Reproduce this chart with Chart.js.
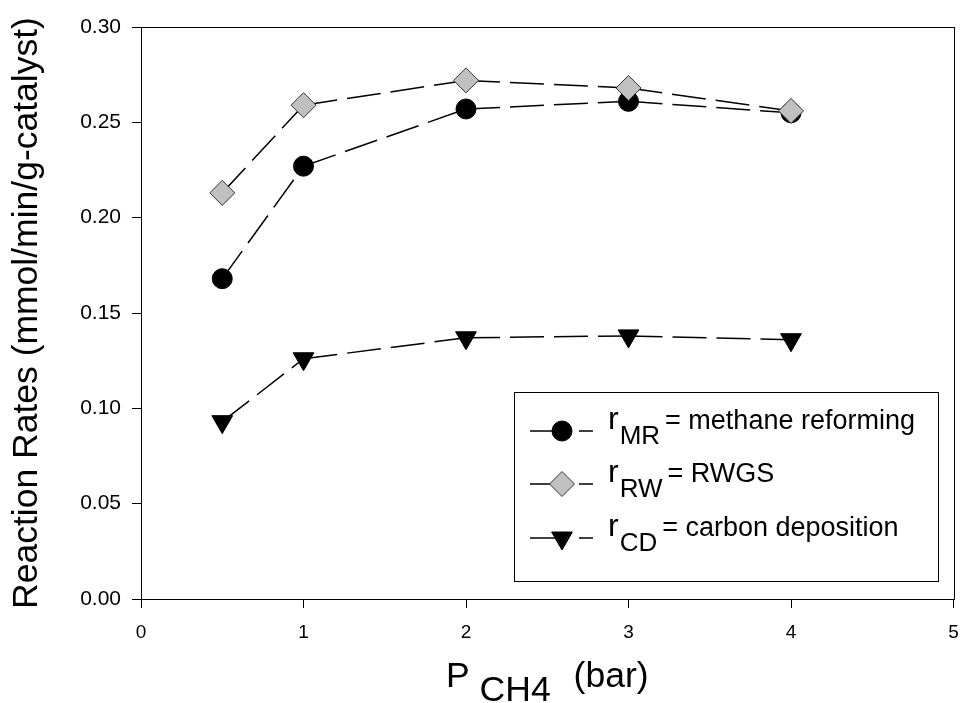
<!DOCTYPE html>
<html>
<head>
<meta charset="utf-8">
<script src="https://cdn.jsdelivr.net/npm/chart.js@4.4.0/dist/chart.umd.min.js"></script>
<style>
  html, body { margin: 0; padding: 0; background: #fff; }
  #wrap { width: 967px; height: 703px; }
</style>
</head>
<body>
<div id="wrap"><canvas id="myChart" width="967" height="703"></canvas></div>
<script>
// values
let pressure = [0.5, 1, 2, 3, 4];
let rMR = [0.168, 0.227, 0.257, 0.261, 0.255];
let rRW = [0.213, 0.259, 0.272, 0.268, 0.256];
let rCD = [0.093, 0.126, 0.137, 0.138, 0.136];

let xTicks = [0, 1, 2, 3, 4, 5];
let yTicks = [0, 0.05, 0.10, 0.15, 0.20, 0.25, 0.30];

let legendMain = ['r', 'r', 'r'];
let legendSub = ['MR', 'RW', 'CD'];
let legendText = ['= methane reforming', '= RWGS', '= carbon deposition'];

const FONT = "'Liberation Sans', Arial, sans-serif";

function pts(ys) {
    return pressure.map((x, i) => ({ x: x, y: ys[i] }));
}

// restart the dash pattern on every segment, like the original plot does
let segStyle = {
    borderDashOffset: ctx => ctx.p0DataIndex * 0.001
};

function drawMarker(ctx, ds, x, y) {
    ctx.save();
    ctx.fillStyle = ds.pointBackgroundColor;
    ctx.strokeStyle = ds.pointBorderColor;
    ctx.lineWidth = ds.pointBorderWidth;
    ctx.setLineDash([]);
    let r = ds.pointRadius;
    ctx.beginPath();
    if (ds.pointStyle === 'circle') {
        ctx.arc(x, y, r, 0, Math.PI * 2);
    } else if (ds.pointStyle === 'rectRot') {
        ctx.moveTo(x, y - r);
        ctx.lineTo(x + r, y);
        ctx.lineTo(x, y + r);
        ctx.lineTo(x - r, y);
    } else {
        ctx.moveTo(x, y + r);
        ctx.lineTo(x - Math.sin(Math.PI / 3) * r, y - r / 2);
        ctx.lineTo(x + Math.sin(Math.PI / 3) * r, y - r / 2);
    }
    ctx.closePath();
    ctx.fill();
    ctx.stroke();
    ctx.restore();
}

let extras = {
    id: 'extras',
    afterDraw(chart) {
        const ctx = chart.ctx;
        const a = chart.chartArea;
        ctx.save();

        // frame
        ctx.strokeStyle = '#000';
        ctx.lineWidth = 1;
        ctx.strokeRect(Math.round(a.left) + 0.5, Math.round(a.top) + 0.5,
            Math.round(a.right - a.left), Math.round(a.bottom - a.top));

        // y title
        ctx.fillStyle = '#000';
        ctx.save();
        ctx.translate(37, (a.top + a.bottom) / 2);
        ctx.rotate(-Math.PI / 2);
        ctx.font = '35.5px ' + FONT;
        ctx.textAlign = 'center';
        ctx.textBaseline = 'alphabetic';
        ctx.fillText('Reaction Rates (mmol/min/g-catalyst)', 0, 0);
        ctx.restore();

        // x title: P CH4 (bar)
        ctx.textBaseline = 'alphabetic';
        ctx.textAlign = 'left';
        ctx.font = '35.5px ' + FONT;
        let wP = ctx.measureText('P').width;
        let wB = ctx.measureText('(bar)').width;
        let wS = ctx.measureText('CH4').width;
        let total = wP + 10 + wS + 23 + wB;
        let cx = (a.left + a.right) / 2 - total / 2;
        ctx.fillText('P', cx, 687);
        ctx.fillText('CH4', cx + wP + 10, 701);
        ctx.fillText('(bar)', cx + wP + 10 + wS + 23, 687);

        // legend box
        ctx.strokeStyle = '#000';
        ctx.lineWidth = 1;
        ctx.strokeRect(514.5, 392.5, 424, 189);

        let rows = [431, 484, 538];
        chart.data.datasets.forEach((ds, i) => {
            let y = rows[i];
            ctx.save();
            ctx.strokeStyle = '#000';
            ctx.lineWidth = 1.5;
            ctx.beginPath();
            ctx.moveTo(530, y);
            ctx.lineTo(562, y);
            ctx.moveTo(579, y);
            ctx.lineTo(593, y);
            ctx.stroke();
            ctx.restore();
            drawMarker(ctx, ds, 562, y);

            let tx = 608;
            let base = y - 2;
            ctx.fillStyle = '#000';
            ctx.font = '32px ' + FONT;
            ctx.fillText(legendMain[i], tx, base);
            tx += ctx.measureText(legendMain[i]).width + 1;
            ctx.font = '26px ' + FONT;
            ctx.fillText(legendSub[i], tx, base + 15);
            tx += ctx.measureText(legendSub[i]).width + 5;
            ctx.font = '27px ' + FONT;
            ctx.fillText(legendText[i], tx, base);
        });

        ctx.restore();
    }
};

let myChart = document.getElementById('myChart').getContext('2d');

let chart = new Chart(myChart, {
    type: 'line',
    data: {
        datasets: [
            {
                label: 'rMR',
                data: pts(rMR),
                order: 1,
                borderColor: '#000',
                borderWidth: 1.5,
                borderDash: [34, 10],
                pointStyle: 'circle',
                pointRadius: 10,
                pointHoverRadius: 10,
                pointBackgroundColor: '#000',
                pointBorderColor: '#000',
                pointBorderWidth: 1,
                segment: segStyle
            },
            {
                label: 'rRW',
                data: pts(rRW),
                order: 0,
                borderColor: '#000',
                borderWidth: 1.5,
                borderDash: [34, 10],
                pointStyle: 'rectRot',
                pointRadius: 12.5,
                pointHoverRadius: 12.5,
                pointBackgroundColor: '#c0c0c0',
                pointBorderColor: '#333',
                pointBorderWidth: 1,
                segment: segStyle
            },
            {
                label: 'rCD',
                data: pts(rCD),
                order: 2,
                borderColor: '#000',
                borderWidth: 1.5,
                borderDash: [34, 10],
                pointStyle: 'triangle',
                rotation: 180,
                pointRotation: 180,
                pointRadius: 12,
                pointHoverRadius: 12,
                pointBackgroundColor: '#000',
                pointBorderColor: '#000',
                pointBorderWidth: 1,
                segment: segStyle
            }
        ]
    },
    options: {
        responsive: false,
        animation: false,
        events: [],
        layout: { padding: { left: 0, top: 27, right: 10.5, bottom: 0 } },
        plugins: {
            legend: { display: false },
            tooltip: { enabled: false }
        },
        scales: {
            x: {
                type: 'linear',
                min: 0,
                max: 5,
                afterBuildTicks: s => { s.ticks = xTicks.map(v => ({ value: v })); },
                afterFit: s => { s.height = 104; s.paddingLeft = 0; s.paddingRight = 0; },
                border: { display: true, color: '#000', width: 1 },
                grid: { drawOnChartArea: false, drawTicks: true, tickLength: 9, color: '#000' },
                ticks: {
                    color: '#000',
                    padding: 13,
                    maxRotation: 0,
                    font: { family: FONT, size: 19 }
                }
            },
            y: {
                min: 0,
                max: 0.30,
                afterBuildTicks: s => { s.ticks = yTicks.map(v => ({ value: v })); },
                afterFit: s => { s.width = 141; s.paddingTop = 0; s.paddingBottom = 0; },
                border: { display: true, color: '#000', width: 1 },
                grid: { drawOnChartArea: false, drawTicks: true, tickLength: 9, color: '#000' },
                ticks: {
                    color: '#000',
                    padding: 11,
                    font: { family: FONT, size: 21 },
                    callback: v => v.toFixed(2)
                }
            }
        }
    },
    plugins: [extras]
});
</script>
</body>
</html>
